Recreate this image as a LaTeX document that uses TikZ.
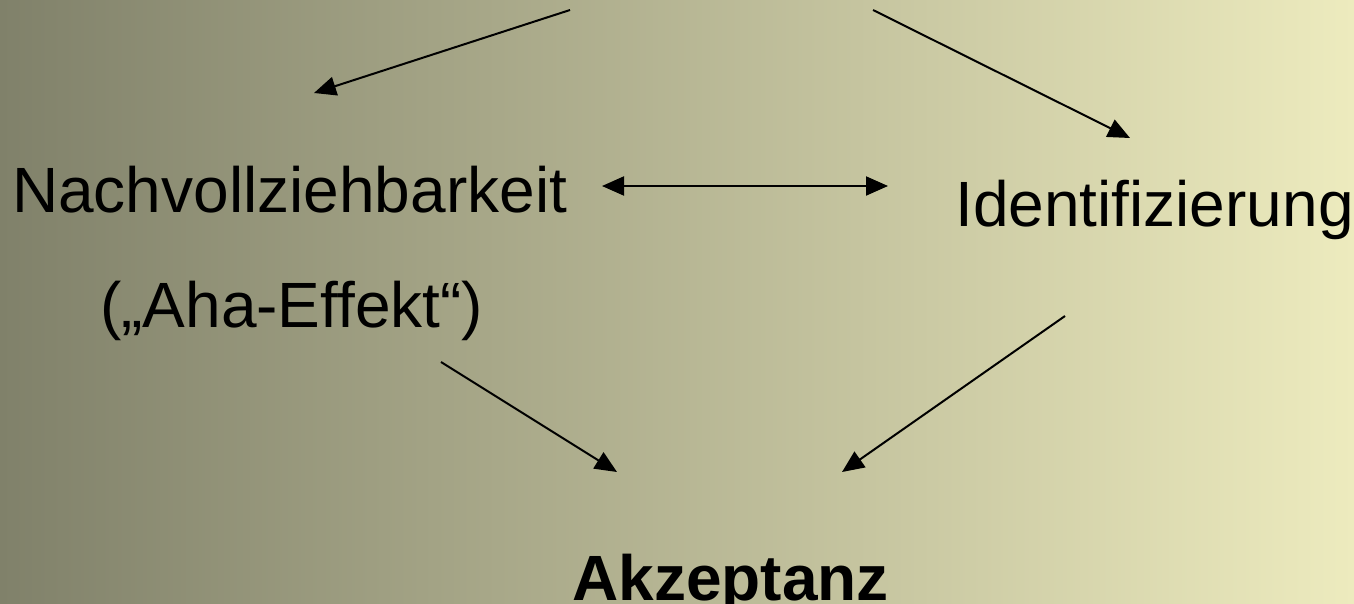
\documentclass[tikz,border=0pt]{standalone}
\usepackage{fontspec}
\setmainfont{Liberation Sans}
\usetikzlibrary{arrows.meta,calc}
\definecolor{bgleft}{RGB}{128,129,106}
\definecolor{bgright}{RGB}{237,235,190}
\tikzset{
  lbl/.style={inner sep=0pt, anchor=base west, font=\fontsize{64}{70}\selectfont},
  conn/.style={line width=2pt, -{Triangle[length=22pt,width=19pt]}},
  dconn/.style={line width=2pt, {Triangle[length=22pt,width=19pt]}-{Triangle[length=22pt,width=19pt]}}
}
\begin{document}
\begin{tikzpicture}[x=1pt,y=-1pt]
\useasboundingbox (0,0) rectangle (1354,603);
\shade[left color=bgleft, right color=bgright] (0,0) rectangle (1354,603);
\node[lbl] (nach) at (12,212) {Nachvollziehbarkeit};
\node[lbl] (aha) at (100,327) {(„Aha-Effekt“)};
\node[lbl] (ident) at (955,226) {Identifizierung};
\node[lbl, font=\fontsize{64}{70}\selectfont\bfseries] (akz) at (572,600) {Akzeptanz};
\coordinate (srcL) at (570,10);
\coordinate (srcR) at (873,10);
\draw[conn] (srcL) -- ($(nach.base west)+(302,-119)$);
\draw[conn] (srcR) -- ($(ident.base west)+(175,-88)$);
\draw[dconn] ($(nach.base west)+(590,-26)$) -- ($(ident.base west)+(-67,-40)$);
\draw[conn] ($(aha.base west)+(341,35)$) -- ($(akz.base west)+(45,-128)$);
\draw[conn] ($(ident.base west)+(110,90)$) -- ($(akz.base west)+(270,-128)$);
\end{tikzpicture}
\end{document}
